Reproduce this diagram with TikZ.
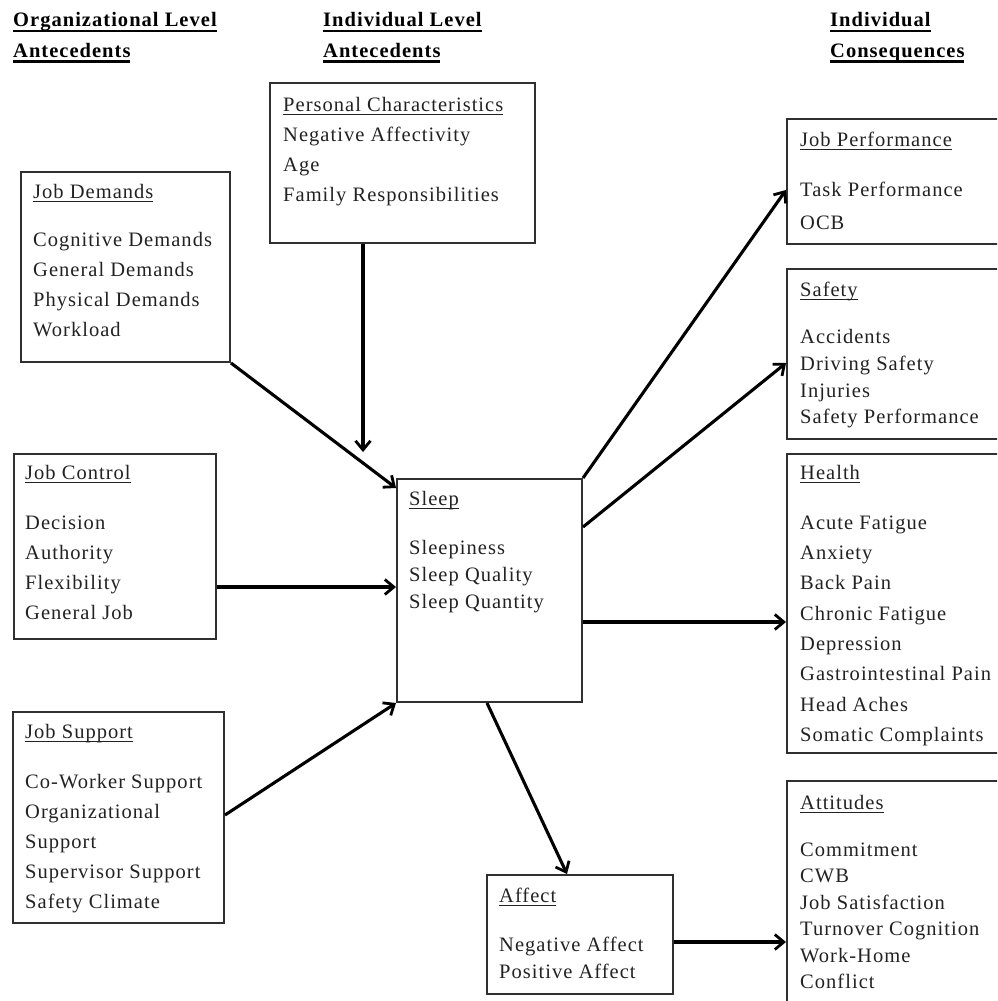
\documentclass[tikz,border=0pt]{standalone}
\usepackage{fontspec}
\setmainfont{Liberation Serif}[LetterSpace=5]
\usetikzlibrary{arrows.meta,calc}
\definecolor{ink}{HTML}{222222}
\definecolor{edge}{HTML}{303030}
\newlength\ulw
\newcommand\ulx[3]{\settowidth\ulw{#1}\rlap{\rule[-#2]{\ulw}{#3}}#1}
\newcommand\titletxt[1]{\ulx{#1}{4pt}{1.4pt}}
\begin{document}
\begin{tikzpicture}[x=1pt,y=-1pt,
  box/.style={draw=edge, line width=2pt, inner sep=0pt, anchor=north west},
  txt/.style={anchor=base west, inner sep=0pt, text=ink, font=\fontsize{20.5}{24}\selectfont},
  head/.style={anchor=base west, inner sep=0pt, text=black, font=\fontsize{20.5}{24}\selectfont},
  link/.style={line width=3.1pt, -{Straight Barb[length=9pt,width=15pt,line width=2.8pt]}}
]
\useasboundingbox (0,0) rectangle (997,1001);
\clip (0,0) rectangle (997,1001);

% headings
\node[head] (h1a) at (13,27) {\ulx{\bfseries Organizational Level}{5.5pt}{2.6pt}};
\node[head] (h1b) at (13,57) {\ulx{\bfseries Antecedents}{5.5pt}{2.6pt}};
\node[head] (h2a) at (323,27) {\ulx{\bfseries Individual Level}{5.5pt}{2.6pt}};
\node[head] (h2b) at (323,57) {\ulx{\bfseries Antecedents}{5.5pt}{2.6pt}};
\node[head] (h3a) at (830,27) {\ulx{\bfseries Individual}{5.5pt}{2.6pt}};
\node[head] (h3b) at (830,57) {\ulx{\bfseries Consequences}{5.5pt}{2.6pt}};

% boxes
\node[box, minimum width=265pt, minimum height=160pt] (pc) at (269,82) {};
\node[box, minimum width=209pt, minimum height=190pt] (jd) at (20,171) {};
\node[box, minimum width=202pt, minimum height=185pt] (jc) at (13,453) {};
\node[box, minimum width=211pt, minimum height=211pt] (js) at (12,711) {};
\node[box, minimum width=185pt, minimum height=223pt] (sleep) at (396,478) {};
\node[box, minimum width=186pt, minimum height=119pt] (af) at (486,874) {};
\node[box, minimum width=240pt, minimum height=125pt] (jp) at (786,118) {};
\node[box, minimum width=240pt, minimum height=170pt] (sf) at (786,268) {};
\node[box, minimum width=240pt, minimum height=299pt] (hl) at (786,453) {};
\node[box, minimum width=240pt, minimum height=260pt] (at) at (786,780) {};

% personal characteristics
\node[txt] (pct) at (283,111) {\titletxt{Personal Characteristics}};
\foreach \t [count=\i] in {Negative Affectivity, Age, Family Responsibilities}
  \node[txt] (pc-\i) at (283,{111+30*\i}) {\t};
% job demands
\node[txt] (jdt) at (33,198) {\titletxt{Job Demands}};
\foreach \t [count=\i] in {Cognitive Demands, General Demands, Physical Demands, Workload}
  \node[txt] (jd-\i) at (33,{216.5+30*\i}) {\t};
% job control
\node[txt] (jct) at (25,479) {\titletxt{Job Control}};
\foreach \t [count=\i] in {Decision, Authority, Flexibility, General Job}
  \node[txt] (jc-\i) at (25,{499+30*\i}) {\t};
% job support
\node[txt] (jst) at (25,738) {\titletxt{Job Support}};
\foreach \t [count=\i] in {Co-Worker Support, Organizational, Support, Supervisor Support, Safety Climate}
  \node[txt] (js-\i) at (25,{758+30*\i}) {\t};
% sleep
\node[txt] (slt) at (409,505) {\titletxt{Sleep}};
\foreach \t [count=\i] in {Sleepiness, Sleep Quality, Sleep Quantity}
  \node[txt] (sl-\i) at (409,{527+27*\i}) {\t};
% affect
\node[txt] (aft) at (499,902) {\titletxt{Affect}};
\foreach \t [count=\i] in {Negative Affect, Positive Affect}
  \node[txt] (af-\i) at (499,{924+27*\i}) {\t};
% job performance
\node[txt] (jpt) at (800,146) {\titletxt{Job Performance}};
\node[txt] (jp-1) at (800,196) {Task Performance};
\node[txt] (jp-2) at (800,229) {OCB};
% safety
\node[txt] (sft) at (800,296) {\titletxt{Safety}};
\foreach \t [count=\i] in {Accidents, Driving Safety, Injuries, Safety Performance}
  \node[txt] (sf-\i) at (800,{317+26.7*\i}) {\t};
% health
\node[txt] (hlt) at (800,479) {\titletxt{Health}};
\foreach \t [count=\i] in {Acute Fatigue, Anxiety, Back Pain, Chronic Fatigue, Depression, Gastrointestinal Pain, Head Aches, Somatic Complaints}
  \node[txt] (hl-\i) at (800,{499+30.3*\i}) {\t};
% attitudes
\node[txt] (att) at (800,809) {\titletxt{Attitudes}};
\foreach \t [count=\i] in {Commitment, CWB, Job Satisfaction, Turnover Cognition, Work-Home, Conflict}
  \node[txt] (at-\i) at (800,{829.5+26.5*\i}) {\t};

% connectors
\coordinate (pcend) at (363,452);
\draw[link] ($(pc.south west)+(94,0)$) -- (pcend);
\draw[link] (jd.south east) -- ($(sleep.north west)+(0,10)$);
\draw[link] ($(jc.north east)+(0,134)$) -- ($(sleep.north west)+(0,109)$);
\draw[link] ($(js.north east)+(0,104)$) -- (sleep.south west);
\draw[link] (sleep.north east) -- ($(jp.north west)+(0,72)$);
\draw[link] ($(sleep.north east)+(0,49)$) -- ($(sf.north west)+(0,95)$);
\draw[link] ($(sleep.north east)+(0,144)$) -- ($(hl.north west)+(0,169)$);
\draw[link] ($(sleep.south west)+(91,0)$) -- ($(af.north west)+(81,0)$);
\draw[link] ($(af.north east)+(0,68)$) -- ($(at.north west)+(0,162)$);
\end{tikzpicture}
\end{document}
